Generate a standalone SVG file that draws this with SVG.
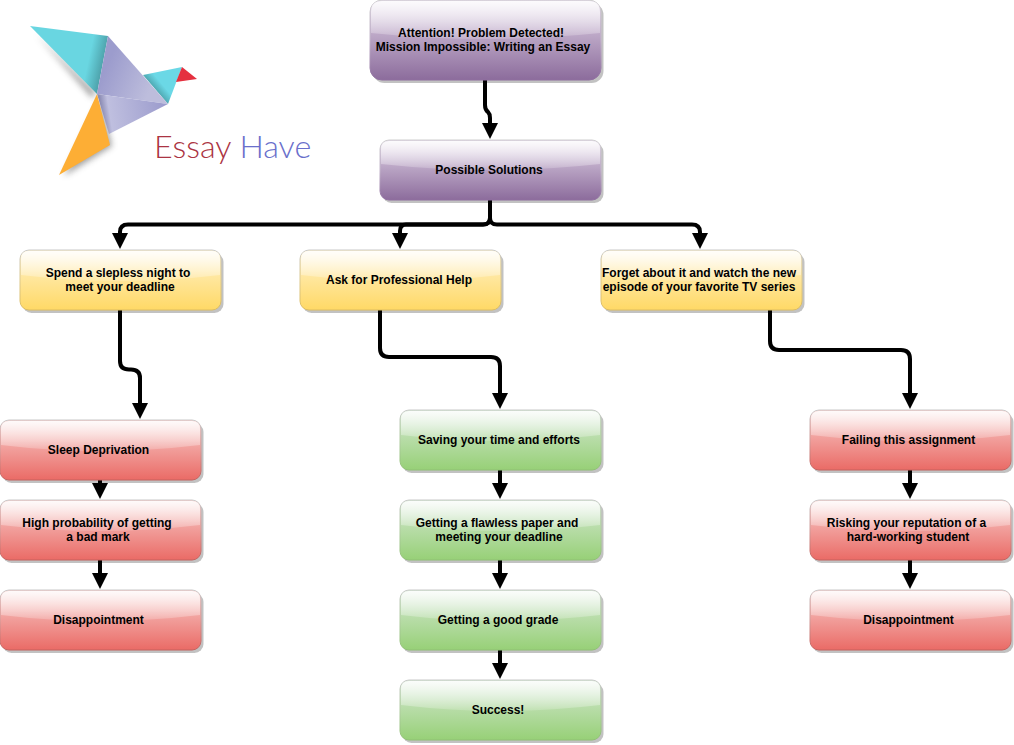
<svg xmlns="http://www.w3.org/2000/svg" width="1014" height="745" viewBox="0 0 1014 745">
<style>
text{font-family:"Liberation Sans",Arial,sans-serif;font-size:12px;font-weight:bold;fill:#000;text-anchor:middle}
.sh{fill:#000;opacity:.24}
.purple{fill:url(#gp);stroke:url(#sp)}
.yellow{fill:url(#gy);stroke:url(#sy)}
.red{fill:url(#gr);stroke:url(#sr)}
.green{fill:url(#gg);stroke:url(#sg)}
.gloss{fill:url(#gl)}
.c{fill:none;stroke:#000;stroke-width:4;marker-end:url(#ah)}
</style>
<defs>
<linearGradient id="gp" x1="0" y1="0" x2="0" y2="1"><stop offset="0" stop-color="#e1d5e7"/><stop offset="1" stop-color="#8c6c9c"/></linearGradient>
<linearGradient id="gy" x1="0" y1="0" x2="0" y2="1"><stop offset="0" stop-color="#fff2cc"/><stop offset="1" stop-color="#ffd966"/></linearGradient>
<linearGradient id="gr" x1="0" y1="0" x2="0" y2="1"><stop offset="0" stop-color="#f8cecc"/><stop offset="1" stop-color="#ea6b66"/></linearGradient>
<linearGradient id="gg" x1="0" y1="0" x2="0" y2="1"><stop offset="0" stop-color="#d5e8d4"/><stop offset="1" stop-color="#97d077"/></linearGradient>
<linearGradient id="sp" x1="0" y1="0" x2="0" y2="1"><stop offset="0" stop-color="#cfcfcf"/><stop offset=".5" stop-color="#c4b6cc"/><stop offset="1" stop-color="#8f6e9f"/></linearGradient>
<linearGradient id="sy" x1="0" y1="0" x2="0" y2="1"><stop offset="0" stop-color="#c9c9c9"/><stop offset=".5" stop-color="#dcc88c"/><stop offset="1" stop-color="#dcbc60"/></linearGradient>
<linearGradient id="sr" x1="0" y1="0" x2="0" y2="1"><stop offset="0" stop-color="#c9c9c9"/><stop offset=".5" stop-color="#d09a98"/><stop offset="1" stop-color="#c4605c"/></linearGradient>
<linearGradient id="sg" x1="0" y1="0" x2="0" y2="1"><stop offset="0" stop-color="#c9c9c9"/><stop offset=".5" stop-color="#b0cca0"/><stop offset="1" stop-color="#8fbf74"/></linearGradient>
<linearGradient id="gl" x1="0" y1="0" x2="0" y2="1"><stop offset="0" stop-color="#fff" stop-opacity=".9"/><stop offset="1" stop-color="#fff" stop-opacity=".15"/></linearGradient>
<linearGradient id="lt" gradientUnits="userSpaceOnUse" x1="88" y1="62" x2="102" y2="65"><stop offset="0" stop-color="#69d6e1"/><stop offset="1" stop-color="#4fa5ae"/></linearGradient>
<linearGradient id="lh" gradientUnits="userSpaceOnUse" x1="155.5" y1="89.5" x2="162" y2="84"><stop offset="0" stop-color="#4fa9b3"/><stop offset="1" stop-color="#6bd8e6"/></linearGradient>
<linearGradient id="lp1" gradientUnits="userSpaceOnUse" x1="105" y1="70" x2="150" y2="90"><stop offset="0" stop-color="#9c9ccd"/><stop offset="1" stop-color="#bdbddc"/></linearGradient>
<linearGradient id="lp2" gradientUnits="userSpaceOnUse" x1="102" y1="114" x2="165" y2="104"><stop offset="0" stop-color="#8c8cb4"/><stop offset=".12" stop-color="#bfbfdf"/><stop offset="1" stop-color="#9c9ccd"/></linearGradient>
<filter id="bl" x="-30%" y="-30%" width="160%" height="160%"><feGaussianBlur stdDeviation="3"/></filter>
<marker id="ah" markerUnits="userSpaceOnUse" markerWidth="17" markerHeight="16" refX="0" refY="8" orient="auto"><path d="M0 0L16 8L0 16Z" fill="#000"/></marker>
</defs>

<g id="logo">
<polygon points="36,34 96,92 92,98" fill="#555" opacity=".55" filter="url(#bl)"/>
<polygon points="100,100 112,146 64,176" fill="#555" opacity=".55" filter="url(#bl)"/>
<polygon points="30,26 108,36 97,94" fill="url(#lt)"/>
<polygon points="143,75 182,67 168,104" fill="url(#lh)"/>
<polygon points="108,36 97,94 168,104" fill="url(#lp1)"/>
<polygon points="97,94 168,104 109,134" fill="url(#lp2)"/>
<polygon points="97,94 110,145 59,175" fill="#fdae35"/>
<polygon points="182,67 197,79 176,82" fill="#e5303f"/>
<text x="154" y="158" style="font-family:Lato,'Open Sans',sans-serif;font-size:32.3px;font-weight:300;text-anchor:start;fill:#ab3443">Essay <tspan fill="#6a6fcb">Have</tspan></text>
</g>

<g id="connectors">
<path class="c" d="M485 80V105Q485 110 488 112Q490 114 490 118V123"/>
<path class="c" d="M490 200V218Q490 224.500 483 224.500H128Q120 224.500 120 232V233"/>
<path class="c" d="M490 200V218Q490 224.500 483 224.500H406Q400 224.500 400 231V233"/>
<path class="c" d="M490 200V218Q490 224.500 497 224.500H692Q700 224.500 700 232V233"/>
<path class="c" d="M120 310V361Q120 369.500 129 369.500H131Q140 369.500 140 378V403"/>
<path class="c" d="M380 310V348Q380 357 389 357H491Q500 357 500 366V393"/>
<path class="c" d="M770 310V341Q770 350 779 350H901Q910 350 910 359V393"/>
<path class="c" d="M100 480V483"/>
<path class="c" d="M100 560V573"/>
<path class="c" d="M500 470V483"/>
<path class="c" d="M500 560V573"/>
<path class="c" d="M500 650V663"/>
<path class="c" d="M910 470V483"/>
<path class="c" d="M910 560V573"/>
</g>

<g id="n1"><rect class="sh" x="372.500" y="3" width="231" height="80" rx="12"/><rect class="purple" x="370" y="0" width="231" height="80" rx="12"/><path class="gloss" d="M371 33V12Q371 1 382 1H589Q600 1 600 12V33Q485 45 371 33Z"/><text x="481" y="37">Attention! Problem Detected!</text><text x="483" y="51">Mission Impossible: Writing an Essay</text></g>
<g id="n2"><rect class="sh" x="382.500" y="143" width="221" height="60" rx="9"/><rect class="purple" x="380" y="140" width="221" height="60" rx="9"/><path class="gloss" d="M381 164V149Q381 141 389 141H592Q600 141 600 149V164Q490 176 381 164Z"/><text x="489" y="174">Possible Solutions</text></g>

<g id="n3"><rect class="sh" x="22.500" y="253" width="201" height="60" rx="9"/><rect class="yellow" x="20" y="250" width="201" height="60" rx="9"/><path class="gloss" d="M21 275V259Q21 251 29 251H212Q220 251 220 259V275Q120 287 21 275Z"/><text x="118" y="277">Spend a slepless night to</text><text x="120" y="291">meet your deadline</text></g>
<g id="n4"><rect class="sh" x="302.500" y="253" width="201" height="60" rx="9"/><rect class="yellow" x="300" y="250" width="201" height="60" rx="9"/><path class="gloss" d="M301 275V259Q301 251 309 251H492Q500 251 500 259V275Q400 287 301 275Z"/><text x="399" y="284">Ask for Professional Help</text></g>
<g id="n5"><rect class="sh" x="603.500" y="253" width="201" height="60" rx="9"/><rect class="yellow" x="601" y="250" width="201" height="60" rx="9"/><path class="gloss" d="M602 275V259Q602 251 610 251H793Q801 251 801 259V275Q701 287 602 275Z"/><text x="699" y="277">Forget about it and watch the new</text><text x="699" y="291">episode of your favorite TV series</text></g>

<g id="n6"><rect class="sh" x="2.500" y="423" width="201" height="60" rx="9"/><rect class="red" x="0" y="420" width="201" height="60" rx="9"/><path class="gloss" d="M1 445V429Q1 421 9 421H192Q200 421 200 429V445Q100 457 1 445Z"/><text x="98.500" y="454">Sleep Deprivation</text></g>
<g id="n7"><rect class="sh" x="2.500" y="503" width="201" height="60" rx="9"/><rect class="red" x="0" y="500" width="201" height="60" rx="9"/><path class="gloss" d="M1 525V509Q1 501 9 501H192Q200 501 200 509V525Q100 537 1 525Z"/><text x="97" y="527">High probability of getting</text><text x="98" y="541">a bad mark</text></g>
<g id="n8"><rect class="sh" x="2.500" y="593" width="201" height="60" rx="9"/><rect class="red" x="0" y="590" width="201" height="60" rx="9"/><path class="gloss" d="M1 615V599Q1 591 9 591H192Q200 591 200 599V615Q100 627 1 615Z"/><text x="98.500" y="624">Disappointment</text></g>

<g id="n9"><rect class="sh" x="402.500" y="413" width="201" height="60" rx="9"/><rect class="green" x="400" y="410" width="201" height="60" rx="9"/><path class="gloss" d="M401 435V419Q401 411 409 411H592Q600 411 600 419V435Q500 447 401 435Z"/><text x="499" y="444">Saving your time and efforts</text></g>
<g id="n10"><rect class="sh" x="402.500" y="503" width="201" height="60" rx="9"/><rect class="green" x="400" y="500" width="201" height="60" rx="9"/><path class="gloss" d="M401 525V509Q401 501 409 501H592Q600 501 600 509V525Q500 537 401 525Z"/><text x="497" y="527">Getting a flawless paper and</text><text x="499" y="541">meeting your deadline</text></g>
<g id="n11"><rect class="sh" x="402.500" y="593" width="201" height="60" rx="9"/><rect class="green" x="400" y="590" width="201" height="60" rx="9"/><path class="gloss" d="M401 615V599Q401 591 409 591H592Q600 591 600 599V615Q500 627 401 615Z"/><text x="498" y="624">Getting a good grade</text></g>
<g id="n12"><rect class="sh" x="402.500" y="683" width="201" height="60" rx="9"/><rect class="green" x="400" y="680" width="201" height="60" rx="9"/><path class="gloss" d="M401 705V689Q401 681 409 681H592Q600 681 600 689V705Q500 717 401 705Z"/><text x="498" y="714">Success!</text></g>

<g id="n13"><rect class="sh" x="812.500" y="413" width="201" height="60" rx="9"/><rect class="red" x="810" y="410" width="201" height="60" rx="9"/><path class="gloss" d="M811 435V419Q811 411 819 411H1002Q1010 411 1010 419V435Q910 447 811 435Z"/><text x="908.500" y="444">Failing this assignment</text></g>
<g id="n14"><rect class="sh" x="812.500" y="503" width="201" height="60" rx="9"/><rect class="red" x="810" y="500" width="201" height="60" rx="9"/><path class="gloss" d="M811 525V509Q811 501 819 501H1002Q1010 501 1010 509V525Q910 537 811 525Z"/><text x="906.500" y="527">Risking your reputation of a</text><text x="908" y="541">hard-working student</text></g>
<g id="n15"><rect class="sh" x="812.500" y="593" width="201" height="60" rx="9"/><rect class="red" x="810" y="590" width="201" height="60" rx="9"/><path class="gloss" d="M811 615V599Q811 591 819 591H1002Q1010 591 1010 599V615Q910 627 811 615Z"/><text x="908.500" y="624">Disappointment</text></g>
</svg>
